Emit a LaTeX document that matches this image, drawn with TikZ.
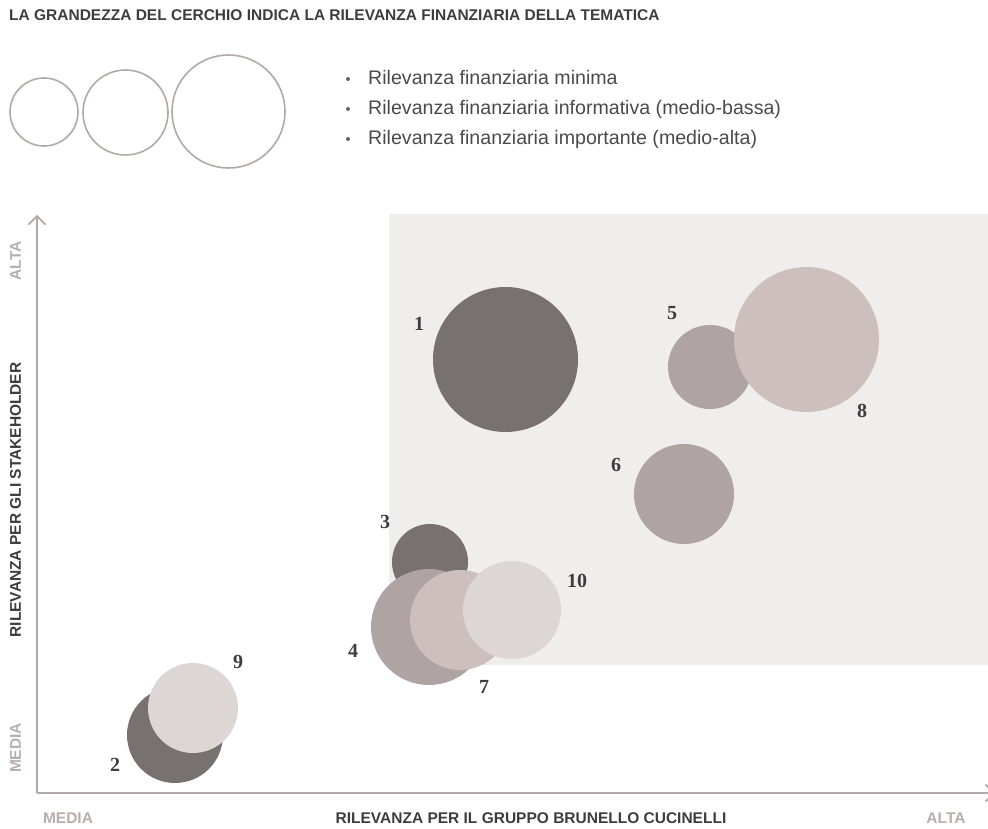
\documentclass[tikz,border=0pt]{standalone}
\usepackage{fontspec}
\setmainfont{Liberation Sans}
\newfontfamily\numfont{Liberation Serif}
\usetikzlibrary{arrows.meta}

\definecolor{axisgrey}{HTML}{B3A8A8}
\definecolor{ticktext}{HTML}{B8ADAD}
\definecolor{darktext}{HTML}{3D3D40}
\definecolor{legendtext}{HTML}{4A4A4A}
\definecolor{zonebg}{HTML}{F0EEED}
\definecolor{tonedark}{HTML}{787171}
\definecolor{tonemid}{HTML}{AFA3A3}
\definecolor{tonepink}{HTML}{CDBFBE}
\definecolor{tonelight}{HTML}{DCD7D5}

\tikzset{
  bubble/.style={circle, inner sep=0pt, draw=none, minimum size=#1},
  ring/.style={circle, inner sep=0pt, draw=axisgrey, line width=1.6pt, minimum size=#1},
  num/.style={font=\numfont\bfseries\fontsize{20}{20}\selectfont, text=darktext, inner sep=0pt},
  axislabel/.style={font=\bfseries\fontsize{15.5}{15.5}\selectfont, text=darktext, inner sep=0pt},
  ticklabel/.style={font=\bfseries\fontsize{15.5}{15.5}\selectfont, text=ticktext, inner sep=0pt},
  legendline/.style={anchor=base west, font=\fontsize{19.6}{19.6}\selectfont, text=legendtext, inner sep=0pt},
  bulletdot/.style={circle, fill=legendtext!85, inner sep=0pt, minimum size=4pt},
  axisline/.style={draw=axisgrey, line width=1.8pt, -{Straight Barb[length=8.5pt,width=17pt,line width=1.6pt]}}
}

\begin{document}
\begin{tikzpicture}[x=1pt,y=-1pt]
\useasboundingbox (0,0) rectangle (988,829);

% heading
\node[anchor=base west, inner sep=0pt, text=darktext,
      font=\bfseries\fontsize{15.5}{15.5}\selectfont] (heading) at (9,20.5)
  {LA GRANDEZZA DEL CERCHIO INDICA LA RILEVANZA FINANZIARIA DELLA TEMATICA};

% size key
\node[ring=68pt]  (k1) at (44,112) {};
\node[ring=85pt]  (k2) at (125.5,112.5) {};
\node[ring=113pt] (k3) at (228.5,111.5) {};

\node[bulletdot] (d1) at (348,79) {};
\node[bulletdot] (d2) at (348,109) {};
\node[bulletdot] (d3) at (348,139) {};
\node[legendline] (t1) at (368,85)  {Rilevanza finanziaria minima};
\node[legendline] (t2) at (368,115) {Rilevanza finanziaria informativa (medio-bassa)};
\node[legendline] (t3) at (368,145) {Rilevanza finanziaria importante (medio-alta)};

% high-priority zone
\fill[zonebg] (389,214) rectangle (988,665);

% axes
\coordinate (origin) at (37,793);
\coordinate (ytip) at (37,215);
\coordinate (xtip) at (995,793);
\draw[axisline] (origin) -- (ytip);
\draw[axisline] (origin) -- (xtip);

\node[ticklabel, rotate=90] (yhigh) at (15.5,261) {ALTA};
\node[ticklabel, rotate=90] (ylow)  at (15.5,748) {MEDIA};
\node[axislabel, rotate=90] (ytitle) at (15.5,500) {RILEVANZA PER GLI STAKEHOLDER};
\node[ticklabel] (xlow)  at (68,818) {MEDIA};
\node[ticklabel] (xhigh) at (946,818) {ALTA};
\node[axislabel] (xtitle) at (531,818) {RILEVANZA PER IL GRUPPO BRUNELLO CUCINELLI};

% topics
\node[bubble=145pt, fill=tonedark]  (b1) at (505.5,359.5) {};
\node[bubble=84pt,  fill=tonemid]   (b5) at (710,367) {};
\node[bubble=145pt, fill=tonepink]  (b8) at (806.5,339.5) {};
\node[bubble=100pt, fill=tonemid]   (b6) at (684,494) {};
\node[bubble=76pt,  fill=tonedark]  (b3) at (430,562) {};
\node[bubble=116pt, fill=tonemid]   (b4) at (429,627) {};
\node[bubble=100pt, fill=tonepink]  (b7) at (460,620) {};
\node[bubble=98pt,  fill=tonelight] (b10) at (512,610) {};
\node[bubble=96pt,  fill=tonedark]  (b2) at (175,735) {};
\node[bubble=90pt,  fill=tonelight] (b9) at (193,708) {};

\node[num] (n1) at (419,324) {1};
\node[num] (n5) at (672,313) {5};
\node[num] (n8) at (862,411) {8};
\node[num] (n6) at (616,465) {6};
\node[num] (n3) at (385,522) {3};
\node[num] (n10) at (577,581) {10};
\node[num] (n4) at (353,651) {4};
\node[num] (n7) at (484,687) {7};
\node[num] (n9) at (238,662) {9};
\node[num] (n2) at (115,765) {2};
\end{tikzpicture}
\end{document}
